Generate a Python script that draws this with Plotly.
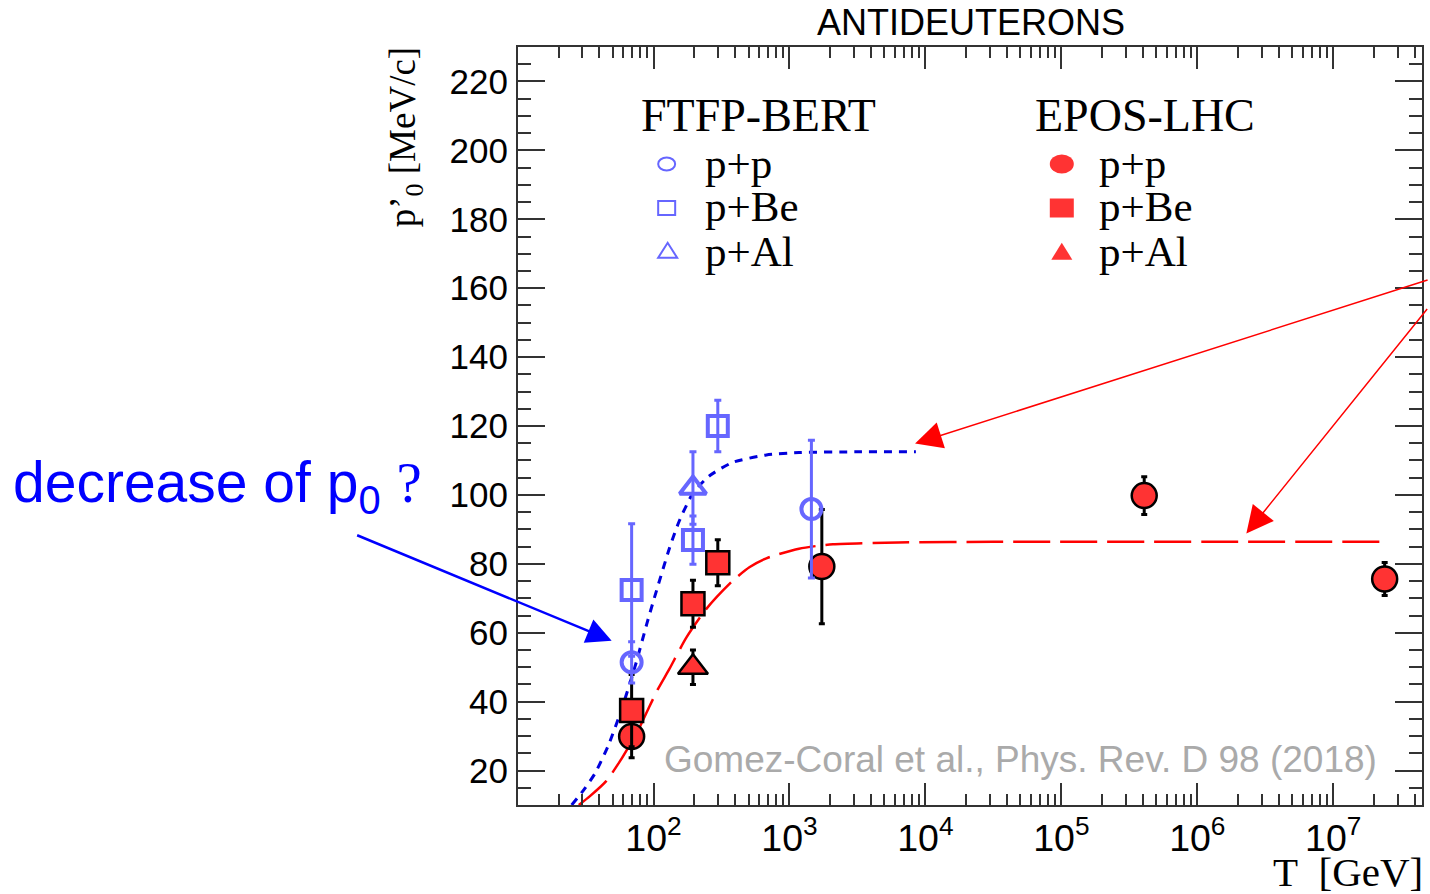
import plotly.graph_objects as go

# ---------------- data ----------------
# FTFP-BERT (open blue markers)
ftfp_pp_T = [69, 1450]
ftfp_pp = [51.4, 95.9]
ftfp_pp_err = [6.0, 20.0]

ftfp_pBe_T = [69, 195, 297]
ftfp_pBe = [72.4, 86.9, 120.0]
ftfp_pBe_err = [19.2, 7.0, 7.5]

ftfp_pAl_T = [195]
ftfp_pAl = [102.0]
ftfp_pAl_err = [10.5]

# EPOS-LHC (filled red markers)
epos_pp_T = [69, 1730, 4.07e5, 2.39e7]
epos_pp = [29.9, 79.2, 99.8, 75.6]
epos_pp_err = [6.2, 16.6, 5.5, 4.8]

epos_pBe_T = [69, 195, 297]
epos_pBe = [37.4, 68.4, 80.3]
epos_pBe_err = [10.5, 6.8, 6.7]

epos_pAl_T = [195]
epos_pAl = [50.0]
epos_pAl_err = [5.0]

# fitted curves
ftfp_fit_T = [25.0, 29.5, 36.9, 46.2, 57.9, 74.1, 89.1, 101.2, 130.9, 154.9,
              195, 257, 380, 676, 1175, 3162, 8511]
ftfp_fit = [10, 13.5, 19, 27, 37.5, 51, 62.5, 70, 84.5, 92.5,
            100.5, 105.5, 109.4, 111.6, 112.3, 112.5, 112.5]

epos_fit_T = [28.2, 33.9, 45.0, 56.2, 70.5, 78.9, 91.8, 107.2, 130.9, 173.8,
              245.5, 380.2, 507, 676, 1175, 2089, 6310, 31623, 2.213e7]
epos_fit = [10, 12.5, 17, 22.5, 29, 32.5, 38, 43.5, 49.5, 58.5,
            67, 75, 79, 81.6, 84.4, 85.7, 86.2, 86.4, 86.4]

BLUE_M = "#6666ff"
RED_M = "#ff3333"

fig = go.Figure()

# curves
fig.add_trace(go.Scatter(x=ftfp_fit_T, y=ftfp_fit, mode="lines",
                         line=dict(color="#0000dd", width=3, dash="8px,7px", shape="spline", smoothing=0.6),
                         hoverinfo="skip"))
fig.add_trace(go.Scatter(x=epos_fit_T, y=epos_fit, mode="lines",
                         line=dict(color="#ff0000", width=2.5, dash="37px,10px", shape="spline", smoothing=0.6),
                         hoverinfo="skip"))

def red_trace(x, y, e, symbol, size, name):
    return go.Scatter(x=x, y=y, mode="markers", name=name,
                      marker=dict(symbol=symbol, size=size, color=RED_M,
                                  line=dict(color="black", width=2.5)),
                      error_y=dict(type="data", array=e, color="black", thickness=3, width=3))

def blue_trace(x, y, e, symbol, size, name):
    return go.Scatter(x=x, y=y, mode="markers", name=name,
                      marker=dict(symbol=symbol, size=size, color=BLUE_M,
                                  line=dict(color=BLUE_M, width=4)),
                      error_y=dict(type="data", array=e, color=BLUE_M, thickness=3, width=3.5))

fig.add_trace(red_trace(epos_pp_T, epos_pp, epos_pp_err, "circle", 25, "EPOS p+p"))
fig.add_trace(red_trace(epos_pBe_T, epos_pBe, epos_pBe_err, "square", 23, "EPOS p+Be"))
fig.add_trace(red_trace(epos_pAl_T, epos_pAl, epos_pAl_err, "triangle-up", 26, "EPOS p+Al"))
fig.add_trace(blue_trace(ftfp_pp_T, ftfp_pp, ftfp_pp_err, "circle-open", 20, "FTFP p+p"))
fig.add_trace(blue_trace(ftfp_pBe_T, ftfp_pBe, ftfp_pBe_err, "square-open", 20, "FTFP p+Be"))
fig.add_trace(blue_trace(ftfp_pAl_T, ftfp_pAl, ftfp_pAl_err, "triangle-up-open", 23, "FTFP p+Al"))

# ---------------- layout ----------------
W, H = 1430, 894
ML, MR, MT, MB = 518, 6, 47, 89
PW, PH = W - ML - MR, H - MT - MB

def px2x(px):
    return (px - ML) / PW

def py2y(py):
    return (H - MB - py) / PH

SANS = "Liberation Sans"
SERIF = "Liberation Serif"
AX = "#333333"

fig.update_layout(
    width=W, height=H, margin=dict(l=ML, r=MR, t=MT, b=MB),
    paper_bgcolor="white", plot_bgcolor="white", showlegend=False,
    xaxis=dict(type="log", range=[1.003, 7.653], dtick=1, exponentformat="power",
               showexponent="all", showline=True, linecolor=AX, linewidth=2,
               mirror="allticks", ticks="inside", ticklen=22, tickwidth=2, tickcolor=AX,
               showgrid=False, zeroline=False, ticklabelstandoff=0,
               tickfont=dict(family=SANS, size=30, color="black"),
               minor=dict(ticks="inside", ticklen=11, tickwidth=2, tickcolor=AX,
                          dtick="D1", showgrid=False)),
    yaxis=dict(range=[10, 230], dtick=20, tick0=0, showline=True, linecolor=AX,
               linewidth=2, mirror="allticks", ticks="inside", ticklen=27, tickwidth=2,
               tickcolor=AX, showgrid=False, zeroline=False, ticklabelstandoff=1,
               tickfont=dict(family=SANS, size=35, color="black"),
               minor=dict(ticks="inside", ticklen=13, tickwidth=2, tickcolor=AX,
                          dtick=5, showgrid=False)),
)

ann = []
ann.append(dict(text="ANTIDEUTERONS", xref="paper", yref="paper", x=px2x(972), y=py2y(22),
                xanchor="center", yanchor="middle", showarrow=False,
                font=dict(family=SANS, size=36, color="black")))
ann.append(dict(text="p\u2019<sub>0</sub> [MeV/c]", xref="paper", yref="paper",
                x=px2x(405), y=py2y(137), xanchor="center", yanchor="middle",
                textangle=-90, showarrow=False, font=dict(family=SERIF, size=37, color="black")))
ann.append(dict(text="T\u00a0\u00a0[GeV]", xref="paper", yref="paper", x=px2x(1427), y=py2y(872),
                xanchor="right", yanchor="middle", showarrow=False,
                font=dict(family=SERIF, size=41, color="black")))
ann.append(dict(text="Gomez-Coral et al., Phys. Rev. D 98 (2018)", xref="paper", yref="paper",
                x=px2x(662), y=py2y(759), xanchor="left", yanchor="middle", showarrow=False,
                font=dict(family=SANS, size=37, color="#aaaaaa")))
ann.append(dict(text="decrease of p<sub>0</sub> <span style=\"font-family:Liberation Serif\">?</span>",
                xref="paper", yref="paper", x=px2x(10), y=py2y(486), xanchor="left",
                yanchor="middle", showarrow=False, font=dict(family=SANS, size=57, color="#0000ff")))

# legend headers and entries
for txt, lx in (("FTFP-BERT", 639), ("EPOS-LHC", 1034)):
    ann.append(dict(text=txt, xref="paper", yref="paper", x=px2x(lx), y=py2y(115),
                    xanchor="left", yanchor="middle", showarrow=False,
                    font=dict(family=SERIF, size=46, color="black")))
rows_y = [163, 207, 251]
for lx in (703, 1098):
    for txt, ry in zip(["p+p", "p+Be", "p+Al"], rows_y):
        ann.append(dict(text=txt, xref="paper", yref="paper", x=px2x(lx), y=py2y(ry),
                        xanchor="left", yanchor="middle", showarrow=False,
                        font=dict(family=SERIF, size=43, color="black")))

# arrows
ann.append(dict(text="", x=3.924, y=114.9, xref="x", yref="y", ax=514, ay=-164,
                showarrow=True, arrowhead=2, arrowsize=3.6, arrowwidth=1.5, arrowcolor="#ff0000"))
ann.append(dict(text="", x=6.361, y=88.8, xref="x", yref="y", ax=182, ay=-226,
                showarrow=True, arrowhead=2, arrowsize=3.6, arrowwidth=1.5, arrowcolor="#ff0000"))
ann.append(dict(text="", x=1.692, y=57.7, xref="x", yref="y", ax=-256, ay=-106,
                showarrow=True, arrowhead=2, arrowsize=2.0, arrowwidth=2.5, arrowcolor="#0000ff"))
fig.update_layout(annotations=ann)

# legend keys (shapes in pixel size around anchors)
shapes = []
def key(kind, cx, cy, w, h, line_col, fill, lw):
    base = dict(xref="paper", yref="paper", xsizemode="pixel", ysizemode="pixel",
                xanchor=px2x(cx), yanchor=py2y(cy),
                line=dict(color=line_col, width=lw), fillcolor=fill)
    if kind == "tri":
        base.update(type="path", path=f"M{-w/2},{-h*0.45} L{w/2},{-h*0.45} L0,{h*0.55} Z")
    else:
        base.update(type=kind, x0=-w/2, x1=w/2, y0=-h/2, y1=h/2)
    return base

shapes.append(key("circle", 667, 164, 17, 13, BLUE_M, "rgba(0,0,0,0)", 2))
shapes.append(key("rect", 667, 208, 17, 14, BLUE_M, "rgba(0,0,0,0)", 2))
shapes.append(key("tri", 668, 251, 19, 15, BLUE_M, "rgba(0,0,0,0)", 2))
shapes.append(key("circle", 1063, 164, 24, 19, RED_M, RED_M, 0))
shapes.append(key("rect", 1063, 208, 24, 19, RED_M, RED_M, 0))
shapes.append(key("tri", 1063, 252, 21, 17, RED_M, RED_M, 0))
fig.update_layout(shapes=shapes)

fig.write_html("out.html")
